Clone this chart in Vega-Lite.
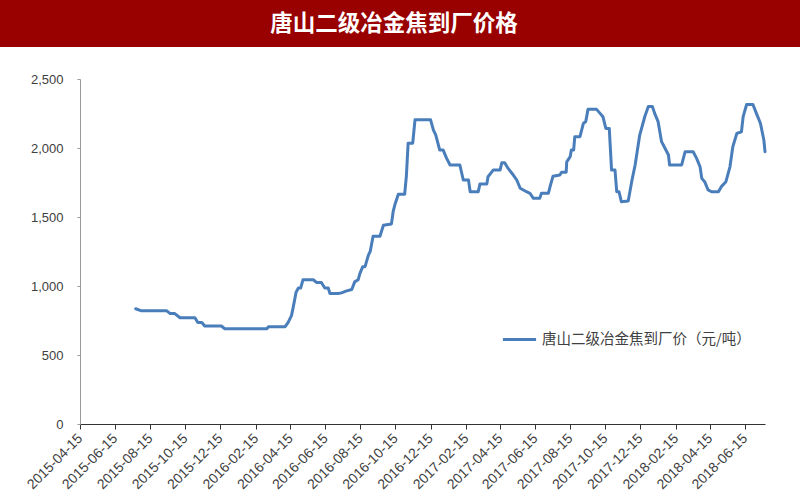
{
  "$schema": "https://vega.github.io/schema/vega-lite/v6.json",
  "padding": 0,
  "background": "white",
  "spacing": 26,
  "config": {"view": {"stroke": null}, "font": "Liberation Sans"},
  "vconcat": [
    {
      "width": 800,
      "height": 47,
      "view": {"fill": "#990000", "stroke": null},
      "data": {"values": [{"t": "唐山二级冶金焦到厂价格"}]},
      "mark": {"type": "text", "color": "white", "font": "Noto Sans CJK SC", "fontSize": 22.5, "fontWeight": "bold", "align": "center", "baseline": "middle", "dx": -6},
      "encoding": {"text": {"field": "t"}}
    },
    {
      "width": 765,
      "height": 345,
      "data": {"values": [
        {"date": "2015-07-21", "price": 835},
        {"date": "2015-07-31", "price": 820},
        {"date": "2015-09-13", "price": 820},
        {"date": "2015-09-19", "price": 800},
        {"date": "2015-09-27", "price": 800},
        {"date": "2015-10-06", "price": 770},
        {"date": "2015-11-01", "price": 770},
        {"date": "2015-11-06", "price": 735},
        {"date": "2015-11-13", "price": 735},
        {"date": "2015-11-18", "price": 710},
        {"date": "2015-12-17", "price": 710},
        {"date": "2015-12-23", "price": 690},
        {"date": "2016-03-05", "price": 690},
        {"date": "2016-03-08", "price": 705},
        {"date": "2016-04-06", "price": 705},
        {"date": "2016-04-11", "price": 735},
        {"date": "2016-04-17", "price": 785},
        {"date": "2016-04-20", "price": 845},
        {"date": "2016-04-25", "price": 955},
        {"date": "2016-04-29", "price": 985},
        {"date": "2016-05-03", "price": 985},
        {"date": "2016-05-07", "price": 1045},
        {"date": "2016-05-25", "price": 1045},
        {"date": "2016-05-31", "price": 1025},
        {"date": "2016-06-08", "price": 1025},
        {"date": "2016-06-14", "price": 985},
        {"date": "2016-06-20", "price": 985},
        {"date": "2016-06-23", "price": 945},
        {"date": "2016-07-07", "price": 945},
        {"date": "2016-07-13", "price": 950},
        {"date": "2016-07-22", "price": 965},
        {"date": "2016-07-31", "price": 975},
        {"date": "2016-08-05", "price": 1030},
        {"date": "2016-08-11", "price": 1045},
        {"date": "2016-08-14", "price": 1090},
        {"date": "2016-08-19", "price": 1140},
        {"date": "2016-08-23", "price": 1140},
        {"date": "2016-08-29", "price": 1225},
        {"date": "2016-09-01", "price": 1250},
        {"date": "2016-09-06", "price": 1360},
        {"date": "2016-09-18", "price": 1360},
        {"date": "2016-09-24", "price": 1440},
        {"date": "2016-10-08", "price": 1450},
        {"date": "2016-10-11", "price": 1540},
        {"date": "2016-10-14", "price": 1590},
        {"date": "2016-10-20", "price": 1665},
        {"date": "2016-10-31", "price": 1665},
        {"date": "2016-11-03", "price": 1800},
        {"date": "2016-11-06", "price": 2035},
        {"date": "2016-11-14", "price": 2035},
        {"date": "2016-11-18", "price": 2205},
        {"date": "2016-12-15", "price": 2205},
        {"date": "2016-12-20", "price": 2130},
        {"date": "2016-12-24", "price": 2095},
        {"date": "2016-12-31", "price": 1985},
        {"date": "2017-01-06", "price": 1985},
        {"date": "2017-01-12", "price": 1925},
        {"date": "2017-01-18", "price": 1877},
        {"date": "2017-02-04", "price": 1877},
        {"date": "2017-02-10", "price": 1768},
        {"date": "2017-02-19", "price": 1768},
        {"date": "2017-02-22", "price": 1683},
        {"date": "2017-03-08", "price": 1683},
        {"date": "2017-03-11", "price": 1740},
        {"date": "2017-03-23", "price": 1740},
        {"date": "2017-03-25", "price": 1792},
        {"date": "2017-04-03", "price": 1840},
        {"date": "2017-04-15", "price": 1840},
        {"date": "2017-04-18", "price": 1893},
        {"date": "2017-04-23", "price": 1893},
        {"date": "2017-04-29", "price": 1852},
        {"date": "2017-05-08", "price": 1804},
        {"date": "2017-05-14", "price": 1768},
        {"date": "2017-05-20", "price": 1708},
        {"date": "2017-05-31", "price": 1683},
        {"date": "2017-06-06", "price": 1672},
        {"date": "2017-06-12", "price": 1635},
        {"date": "2017-06-23", "price": 1635},
        {"date": "2017-06-26", "price": 1672},
        {"date": "2017-07-08", "price": 1672},
        {"date": "2017-07-11", "price": 1720},
        {"date": "2017-07-16", "price": 1795},
        {"date": "2017-07-28", "price": 1804},
        {"date": "2017-07-31", "price": 1824},
        {"date": "2017-08-08", "price": 1824},
        {"date": "2017-08-09", "price": 1900},
        {"date": "2017-08-15", "price": 1937},
        {"date": "2017-08-17", "price": 1985},
        {"date": "2017-08-21", "price": 1985},
        {"date": "2017-08-23", "price": 2082},
        {"date": "2017-09-01", "price": 2082},
        {"date": "2017-09-07", "price": 2179},
        {"date": "2017-09-11", "price": 2190},
        {"date": "2017-09-15", "price": 2280},
        {"date": "2017-09-30", "price": 2280},
        {"date": "2017-10-06", "price": 2251},
        {"date": "2017-10-11", "price": 2227},
        {"date": "2017-10-16", "price": 2142},
        {"date": "2017-10-22", "price": 2142},
        {"date": "2017-10-26", "price": 1840},
        {"date": "2017-11-01", "price": 1840},
        {"date": "2017-11-04", "price": 1683},
        {"date": "2017-11-08", "price": 1683},
        {"date": "2017-11-12", "price": 1611},
        {"date": "2017-11-24", "price": 1616},
        {"date": "2017-11-30", "price": 1756},
        {"date": "2017-12-06", "price": 1877},
        {"date": "2017-12-14", "price": 2094},
        {"date": "2017-12-23", "price": 2230},
        {"date": "2017-12-29", "price": 2300},
        {"date": "2018-01-05", "price": 2300},
        {"date": "2018-01-09", "price": 2251},
        {"date": "2018-01-15", "price": 2191},
        {"date": "2018-01-21", "price": 2046},
        {"date": "2018-01-27", "price": 1998},
        {"date": "2018-02-02", "price": 1949},
        {"date": "2018-02-04", "price": 1877},
        {"date": "2018-02-25", "price": 1877},
        {"date": "2018-03-03", "price": 1973},
        {"date": "2018-03-17", "price": 1973},
        {"date": "2018-03-23", "price": 1925},
        {"date": "2018-03-29", "price": 1864},
        {"date": "2018-04-01", "price": 1780},
        {"date": "2018-04-06", "price": 1756},
        {"date": "2018-04-12", "price": 1696},
        {"date": "2018-04-18", "price": 1683},
        {"date": "2018-04-30", "price": 1683},
        {"date": "2018-05-05", "price": 1720},
        {"date": "2018-05-13", "price": 1756},
        {"date": "2018-05-20", "price": 1864},
        {"date": "2018-05-25", "price": 2009},
        {"date": "2018-06-01", "price": 2106},
        {"date": "2018-06-09", "price": 2118},
        {"date": "2018-06-12", "price": 2227},
        {"date": "2018-06-18", "price": 2315},
        {"date": "2018-06-29", "price": 2315},
        {"date": "2018-07-05", "price": 2251},
        {"date": "2018-07-12", "price": 2179},
        {"date": "2018-07-18", "price": 2058},
        {"date": "2018-07-20", "price": 1973}
      ]},
      "mark": {"type": "line", "strokeWidth": 3, "strokeJoin": "round", "strokeCap": "round"},
      "encoding": {
        "x": {
          "field": "date",
          "type": "temporal",
          "scale": {"type": "utc", "range": [80, 765], "domain": [
            {"year": 2015, "month": 4, "date": 15, "utc": true},
            {"year": 2018, "month": 7, "date": 20, "utc": true}
          ]},
          "axis": {
            "title": null,
            "grid": false,
            "values": [
              {"year": 2015, "month": 4, "date": 15, "utc": true},
              {"year": 2015, "month": 6, "date": 15, "utc": true},
              {"year": 2015, "month": 8, "date": 15, "utc": true},
              {"year": 2015, "month": 10, "date": 15, "utc": true},
              {"year": 2015, "month": 12, "date": 15, "utc": true},
              {"year": 2016, "month": 2, "date": 15, "utc": true},
              {"year": 2016, "month": 4, "date": 15, "utc": true},
              {"year": 2016, "month": 6, "date": 15, "utc": true},
              {"year": 2016, "month": 8, "date": 15, "utc": true},
              {"year": 2016, "month": 10, "date": 15, "utc": true},
              {"year": 2016, "month": 12, "date": 15, "utc": true},
              {"year": 2017, "month": 2, "date": 15, "utc": true},
              {"year": 2017, "month": 4, "date": 15, "utc": true},
              {"year": 2017, "month": 6, "date": 15, "utc": true},
              {"year": 2017, "month": 8, "date": 15, "utc": true},
              {"year": 2017, "month": 10, "date": 15, "utc": true},
              {"year": 2017, "month": 12, "date": 15, "utc": true},
              {"year": 2018, "month": 2, "date": 15, "utc": true},
              {"year": 2018, "month": 4, "date": 15, "utc": true},
              {"year": 2018, "month": 6, "date": 15, "utc": true}
            ],
            "format": "%Y-%m-%d",
            "labelAngle": -45,
            "labelAlign": "right",
            "labelBaseline": "middle",
            "labelFontSize": 14,
            "labelColor": "#404040",
            "labelPadding": 7,
            "labelOverlap": false,
            "labelFlush": false,
            "labelBound": false,
            "tickSize": 5,
            "tickColor": "#333333",
            "domainColor": "#333333"
          }
        },
        "y": {
          "field": "price",
          "type": "quantitative",
          "scale": {"domain": [0, 2500]},
          "axis": {
            "title": null,
            "grid": false,
            "offset": -80,
            "values": [0, 500, 1000, 1500, 2000, 2500],
            "format": ",.0f",
            "labelFontSize": 13,
            "labelColor": "#404040",
            "labelPadding": 14,
            "tickSize": 3,
            "tickColor": "#999999",
            "domainColor": "#999999"
          }
        },
        "color": {
          "datum": "唐山二级冶金焦到厂价（元/吨）",
          "scale": {"range": ["#4a7ebb"]},
          "legend": {
            "title": null,
            "orient": "none",
            "legendX": 501,
            "legendY": 321,
            "symbolType": "stroke",
            "symbolSize": 1100,
            "symbolStrokeWidth": 3,
            "labelFont": "Noto Sans CJK SC",
            "labelFontSize": 14.5,
            "labelColor": "#404040",
            "labelOffset": 4,
            "labelLimit": 400
          }
        }
      }
    }
  ]
}
